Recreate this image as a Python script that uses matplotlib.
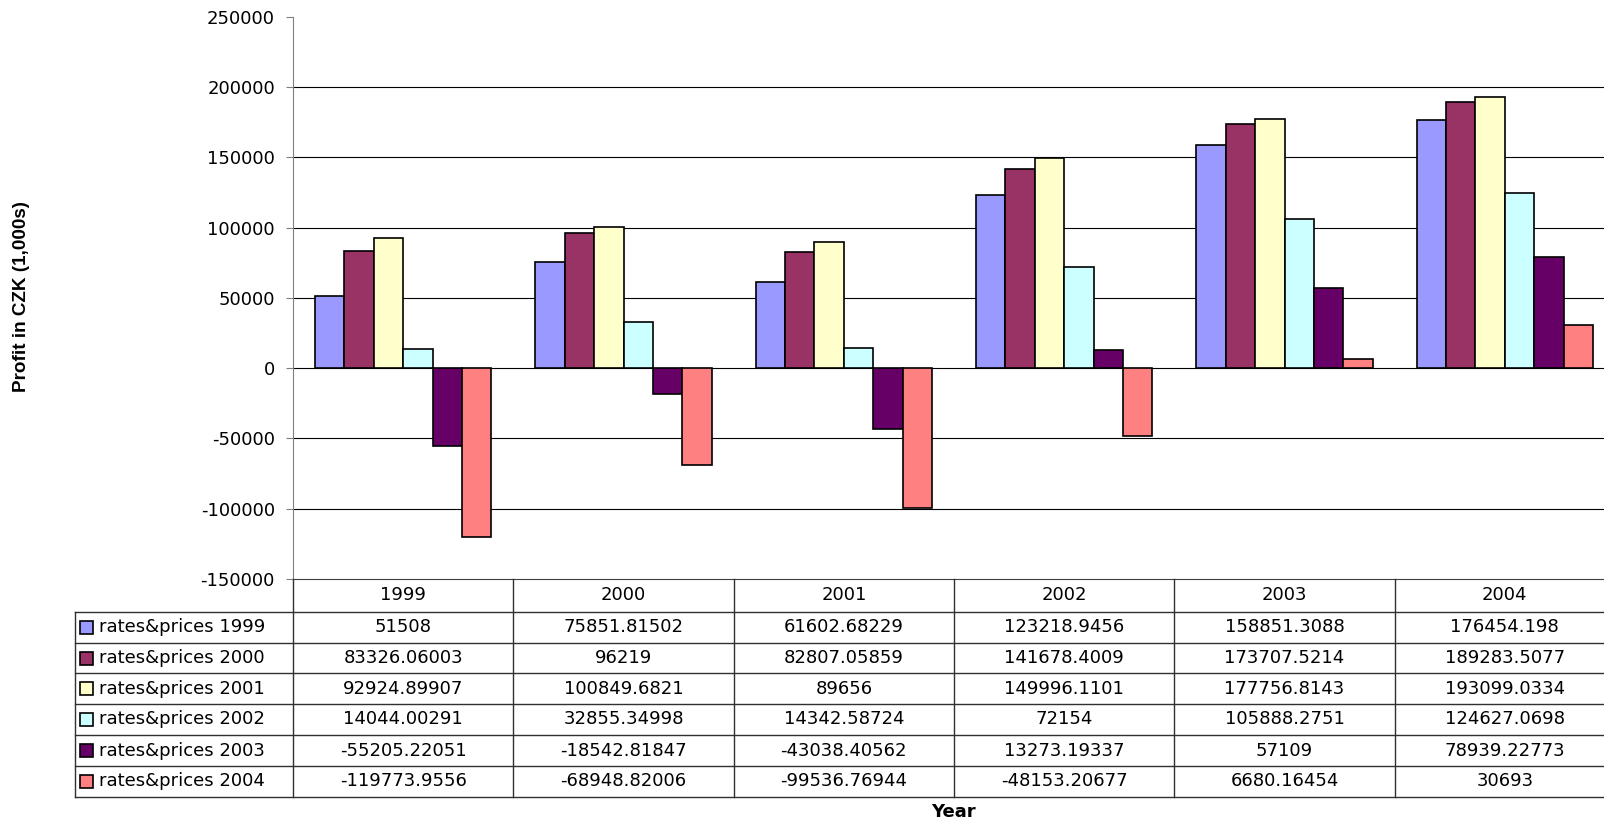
import numpy as np
import matplotlib
matplotlib.use('Agg')
import matplotlib.pyplot as plt
from matplotlib.transforms import blended_transform_factory
from matplotlib.patches import Rectangle

plt.rcParams['font.family'] = ['DejaVu Sans']
plt.rcParams['axes.unicode_minus'] = False

# data

years = ['1999', '2000', '2001', '2002', '2003', '2004']
series = ['rates&prices 1999', 'rates&prices 2000', 'rates&prices 2001',
          'rates&prices 2002', 'rates&prices 2003', 'rates&prices 2004']

rp1999 = [51508, 75851.81502, 61602.68229, 123218.9456, 158851.3088, 176454.198]
rp2000 = [83326.06003, 96219, 82807.05859, 141678.4009, 173707.5214, 189283.5077]
rp2001 = [92924.89907, 100849.6821, 89656, 149996.1101, 177756.8143, 193099.0334]
rp2002 = [14044.00291, 32855.34998, 14342.58724, 72154, 105888.2751, 124627.0698]
rp2003 = [-55205.22051, -18542.81847, -43038.40562, 13273.19337, 57109, 78939.22773]
rp2004 = [-119773.9556, -68948.82006, -99536.76944, -48153.20677, 6680.16454, 30693]

values = [rp1999, rp2000, rp2001, rp2002, rp2003, rp2004]
colors = ['#9999FF', '#993366', '#FFFFCC', '#CCFFFF', '#660066', '#FF8080']

# figure

W, H = 1604, 825
fig = plt.figure(figsize=(W / 100, H / 100), dpi=100)

ax_left, ax_right, ax_top, ax_bottom = 293, 1615, 17, 579
ax = fig.add_axes([ax_left / W, 1 - ax_bottom / H,
                   (ax_right - ax_left) / W, (ax_bottom - ax_top) / H])

x = np.arange(len(years)) + 0.5
bw = 0.8 / len(series)
for i, vals in enumerate(values):
    ax.bar(x - 0.4 + bw * (i + 0.5), vals, width=bw, color=colors[i],
           edgecolor='black', linewidth=1.2, zorder=3)

ax.set_xlim(0, len(years))
ax.set_ylim(-150000, 250000)
ax.set_yticks(np.arange(-150000, 250001, 50000))
for yv in np.arange(-100000, 200001, 50000):
    ax.axhline(yv, color='black', linewidth=0.8, zorder=1)

ax.set_xticks([])
for s in ['top', 'right']:
    ax.spines[s].set_visible(False)
ax.spines['left'].set_color('#808080')
ax.spines['bottom'].set_color('#404040')
ax.tick_params(axis='y', direction='out', length=5, color='#808080',
               labelsize=13, pad=8)

# data table below the plot

def fy(py):
    return 1 - py / H

tr = blended_transform_factory(ax.transData, fig.transFigure)
ftr = fig.transFigure
row_edges = [579, 612, 643, 673, 704, 735, 766, 797]
leg_left = 75
lc = '#303030'

# horizontal lines
for py in row_edges[1:]:
    fig.add_artist(plt.Line2D([leg_left / W, 1], [fy(py), fy(py)],
                              color=lc, linewidth=1, transform=ftr))
# vertical lines
fig.add_artist(plt.Line2D([leg_left / W, leg_left / W],
                          [fy(row_edges[1]), fy(row_edges[-1])],
                          color=lc, linewidth=1, transform=ftr))
for k in range(len(years) + 1):
    fig.add_artist(plt.Line2D([k, k], [fy(row_edges[0]), fy(row_edges[-1])],
                              color=lc, linewidth=1, transform=tr))

# header
for k, yr in enumerate(years):
    fig.text(x[k], fy((row_edges[0] + row_edges[1]) / 2), yr, transform=tr,
             ha='center', va='center', fontsize=13)

# rows
for i, vals in enumerate(values):
    yc = fy((row_edges[i + 1] + row_edges[i + 2]) / 2)
    fig.add_artist(Rectangle((80 / W, yc - 6.5 / H), 13 / W, 13 / H,
                             facecolor=colors[i], edgecolor='black',
                             linewidth=1.2, transform=ftr))
    fig.text(99 / W, yc, series[i], transform=ftr, ha='left', va='center',
             fontsize=13)
    for k, v in enumerate(vals):
        fig.text(x[k], yc, '{:.10g}'.format(v), transform=tr,
                 ha='center', va='center', fontsize=13)

fig.text(953 / W, fy(812), 'Year', ha='center', va='center',
         fontsize=13, fontweight='bold')
fig.text(22 / W, fy(296), 'Profit in CZK (1,000s)', ha='center', va='center',
         rotation=90, fontsize=13.6, fontweight='bold',
         family=['Liberation Sans', 'DejaVu Sans'])

fig.savefig('out.png', dpi=100)
